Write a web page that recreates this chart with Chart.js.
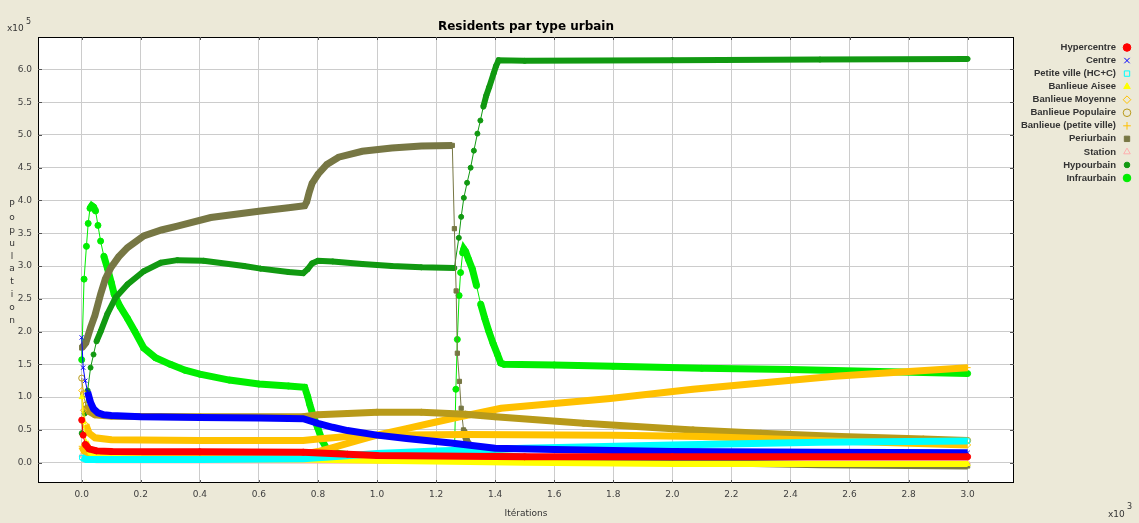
<!DOCTYPE html>
<html lang="fr">
<head>
  <meta charset="UTF-8">
  <title>Residents par type urbain</title>
  <script src="https://cdn.jsdelivr.net/npm/chart.js"></script>
  <style>
    html, body { margin:0; padding:0; background:#ece9d8; }
    .wrap { position:relative; width:1139px; height:523px; }
  </style>
</head>
<body>
  <div class="wrap"><canvas id="chart" width="1139" height="523"></canvas></div>
  <script>
    // [iteration, residents]
    const hypercentre = [[0,65000],[5,42000],[12,28000],[25,21000],[50,18000],[100,17000],[400,16500],[750,16000],[900,13000],[1000,11000],[1500,9000],[2000,9000],[3000,9000]];
    const centre = [[0,191000],[5,145000],[12,125000],[20,108000],[30,92000],[40,82000],[55,76000],[75,73000],[100,72000],[200,70000],[400,69000],[600,68000],[750,67000],[800,60000],[850,54000],[900,49000],[1000,42000],[1100,37000],[1250,30000],[1400,22000],[1600,20000],[2000,17000],[2500,16000],[3000,15000]];
    const petiteVilleHC = [[0,8000],[15,5000],[400,5000],[750,6000],[850,9000],[1000,14000],[1200,18000],[1500,22000],[2000,27000],[2500,31000],[3000,33000]];
    const banlieueAisee = [[0,100000],[6,62000],[14,32000],[30,15000],[60,8000],[200,6000],[750,5000],[1000,3000],[1500,0],[2000,-2000],[3000,-2000]];
    const banlieueMoyenne = [[0,110000],[6,80000],[14,58000],[25,45000],[45,38000],[100,35000],[400,34000],[750,34000],[800,36000],[900,40000],[1000,42000],[1300,43000],[1800,42000],[2100,40000],[2500,34000],[3000,27000]];
    const banlieuePopulaire = [[0,129000],[6,105000],[14,88000],[25,78000],[45,73000],[100,71000],[400,70000],[750,70000],[800,73000],[900,75000],[1000,77000],[1150,77000],[1300,74000],[1400,70000],[1700,60000],[2070,50000],[2300,45000],[2570,40000],[2850,36000],[3000,34000]];
    const banlieuePetiteVille = [[0,25000],[8,18000],[20,14000],[100,12000],[750,13000],[800,17000],[850,23000],[945,35000],[1000,42000],[1100,52000],[1200,62000],[1280,70000],[1420,83000],[1790,98000],[2070,112000],[2550,132000],[3000,145000]];
    const periurbain = [[0,175000],[14,183000],[30,206000],[45,225000],[64,257000],[80,280000],[98,297000],[125,314000],[155,328000],[210,346000],[270,355000],[324,361000],[437,374000],[606,384000],[700,389000],[755,392000],[762,398000],[770,412000],[780,426000],[800,440000],[830,455000],[870,466000],[950,475000],[1050,480000],[1150,483000],[1255,484000],[1262,357000],[1268,262000],[1272,167000],[1279,124000],[1285,83000],[1293,50000],[1305,32000],[1325,20000],[1400,11000],[1600,6000],[2000,1000],[2500,-3000],[3000,-5000]];
    const station = [[0,12000],[10,5000],[50,3000],[1000,2000],[3000,1000]];
    const hypourbain = [[0,45000],[10,75000],[20,110000],[30,145000],[40,165000],[50,185000],[64,200000],[87,227000],[115,252000],[155,272000],[210,292000],[268,305000],[324,309000],[413,308000],[550,300000],[606,296000],[700,291000],[750,289000],[765,295000],[780,304000],[800,308000],[850,307000],[950,303000],[1050,300000],[1150,298000],[1262,297000],[1277,343000],[1285,375000],[1294,404000],[1305,427000],[1317,450000],[1328,476000],[1340,502000],[1350,522000],[1360,543000],[1370,560000],[1380,573000],[1395,594000],[1403,605000],[1412,614000],[1500,613000],[2000,614000],[2500,615000],[3000,616000]];
    const infraurbain = [[0,157000],[8,280000],[16,330000],[22,365000],[28,388000],[34,392000],[40,390000],[47,384000],[55,362000],[64,338000],[75,315000],[87,297000],[100,275000],[110,257000],[130,238000],[155,220000],[180,200000],[210,175000],[250,160000],[300,150000],[350,141000],[400,135000],[500,126000],[600,120000],[700,117000],[755,115000],[765,101000],[772,89000],[785,70000],[800,52000],[815,33000],[830,21000],[870,14000],[950,10000],[1100,8000],[1262,8000],[1267,112000],[1272,188000],[1278,255000],[1283,290000],[1290,320000],[1294,326000],[1300,322000],[1310,310000],[1323,295000],[1337,270000],[1351,242000],[1365,220000],[1379,200000],[1393,182000],[1408,165000],[1419,152000],[1430,150000],[1600,149000],[1800,147000],[2100,144000],[2400,142000],[2700,139000],[3000,136000]];

    const seriesNames = ['Hypercentre','Centre','Petite ville (HC+C)','Banlieue Aisee','Banlieue Moyenne','Banlieue Populaire','Banlieue (petite ville)','Periurbain','Station','Hypourbain','Infraurbain'];
    const seriesData = [hypercentre, centre, petiteVilleHC, banlieueAisee, banlieueMoyenne, banlieuePopulaire, banlieuePetiteVille, periurbain, station, hypourbain, infraurbain];
    const seriesColors = ['#ff0000','#0000ff','#00ffff','#ffff00','#ffc200','#b89a1a','#ffc000','#777744','#ffafaf','#119911','#00ee00'];
    const seriesStyles = ['circle','crossRot','rect','triangle','rectRot','circle','cross','rect','triangle','circle','circle'];
    const seriesHollow = [false,false,true,false,true,true,false,false,true,false,false];
    const bandWidth = [7,7,7,6,7,7,7,7,5,6,7];

    // tick values (iterations, residents)
    const xTickValues = [0,200,400,600,800,1000,1200,1400,1600,1800,2000,2200,2400,2600,2800,3000];
    const yTickValues = [0,50000,100000,150000,200000,250000,300000,350000,400000,450000,500000,550000,600000];

    const font = 'DejaVu Sans';

    const datasets = seriesNames.map((name, i) => ({
      label: name,
      data: seriesData[i],
      borderColor: seriesColors[i],
      backgroundColor: seriesColors[i],
      pointStyle: seriesStyles[i],
      pointRadius: i === 9 ? 2.5 : 3,
      pointBorderWidth: 1,
      pointBorderColor: seriesColors[i],
      pointBackgroundColor: seriesHollow[i] ? 'rgba(255,255,255,0)' : seriesColors[i],
      borderWidth: bandWidth[i],
      tension: 0,
      segment: {
        borderWidth: c => {
          const dx = Math.abs(c.p1.x - c.p0.x), dy = Math.abs(c.p1.y - c.p0.y);
          return (dy > 8 && dy > 4 * dx) ? 1 : bandWidth[i];
        }
      }
    }));

    // background, frame, title, legend, axis texts
    const decor = {
      id: 'decor',
      beforeDraw(chart) {
        const { ctx, chartArea: a } = chart;
        ctx.save();
        ctx.fillStyle = '#ece9d8';
        ctx.fillRect(0, 0, chart.width, chart.height);
        ctx.fillStyle = '#ffffff';
        ctx.fillRect(a.left, a.top, a.right - a.left, a.bottom - a.top);
        ctx.restore();
      },
      afterDraw(chart) {
        const { ctx, chartArea: a } = chart;
        const xs = chart.scales.x, ys = chart.scales.y;
        ctx.save();
        // frame
        ctx.strokeStyle = '#000';
        ctx.lineWidth = 1;
        ctx.strokeRect(a.left + 0.5, a.top + 0.5, a.right - a.left - 1, a.bottom - a.top - 1);
        // small inner ticks
        ctx.strokeStyle = '#555';
        xs.ticks.forEach(t => {
          const px = Math.round(xs.getPixelForValue(t.value)) + 0.5;
          ctx.beginPath();
          ctx.moveTo(px, a.top); ctx.lineTo(px, a.top + 3);
          ctx.moveTo(px, a.bottom); ctx.lineTo(px, a.bottom - 3);
          ctx.stroke();
        });
        ys.ticks.forEach(t => {
          const py = Math.round(ys.getPixelForValue(t.value)) + 0.5;
          ctx.beginPath();
          ctx.moveTo(a.left, py); ctx.lineTo(a.left + 4, py);
          ctx.moveTo(a.right, py); ctx.lineTo(a.right - 4, py);
          ctx.stroke();
        });
        // title
        ctx.fillStyle = '#000';
        ctx.font = 'bold 12px ' + font;
        ctx.textAlign = 'center';
        ctx.textBaseline = 'middle';
        ctx.fillText('Residents par type urbain', (a.left + a.right) / 2, 27);
        // axis texts
        ctx.fillStyle = '#333';
        ctx.font = '9px ' + font;
        ctx.fillText('Itérations', (a.left + a.right) / 2, 514);
        const word = 'Population';
        for (let k = 0; k < word.length; k++) ctx.fillText(word[k], 12, 205 + k * 12.8);
        ctx.textAlign = 'left';
        ctx.fillText('x10', 7, 29);
        ctx.fillText('x10', 1108, 515);
        ctx.font = '8px ' + font;
        ctx.fillText('5', 26, 22);
        ctx.fillText('3', 1127, 507);
        // legend
        const H = Chart.helpers;
        ctx.font = 'bold 9.5px "Liberation Sans"';
        chart.data.datasets.forEach((ds, i) => {
          const y = 47.5 + i * 13.05;
          ctx.fillStyle = '#333';
          ctx.textAlign = 'right';
          ctx.fillText(ds.label, 1116, y);
          ctx.strokeStyle = seriesColors[i];
          ctx.fillStyle = seriesHollow[i] ? 'rgba(0,0,0,0)' : seriesColors[i];
          ctx.lineWidth = 1;
          H.drawPoint(ctx, { pointStyle: seriesStyles[i], rotation: 0, radius: i === 9 ? 2.8 : 3.8, borderWidth: 1 }, 1127, y);
        });
        ctx.restore();
      }
    };

    const tickFont = { family: font, size: 9 };
    new Chart(document.getElementById('chart'), {
      type: 'line',
      data: { datasets },
      options: {
        responsive: false,
        animation: false,
        layout: { padding: { left: 0, top: 37, right: 125, bottom: 0 } },
        plugins: { legend: { display: false }, title: { display: false }, tooltip: { enabled: false } },
        scales: {
          x: {
            type: 'linear',
            min: -148, max: 3157,
            afterFit: s => { s.height = 40; },
            afterBuildTicks: s => { s.ticks = xTickValues.map(v => ({ value: v })); },
            ticks: { padding: 6, color: '#404040', font: tickFont,
              callback: v => (v / 1000).toFixed(1), maxRotation: 0, autoSkip: false },
            grid: { color: '#cccccc', lineWidth: 1, drawTicks: false },
            border: { display: false }
          },
          y: {
            type: 'linear',
            min: -31000, max: 649400,
            afterFit: s => { s.width = 38; },
            afterBuildTicks: s => { s.ticks = yTickValues.map(v => ({ value: v })); },
            ticks: { padding: 6, color: '#404040', font: tickFont,
              callback: v => (v / 100000).toFixed(1), autoSkip: false },
            grid: { color: '#cccccc', lineWidth: 1, drawTicks: false },
            border: { display: false }
          }
        }
      },
      plugins: [decor]
    });
  </script>
</body>
</html>
